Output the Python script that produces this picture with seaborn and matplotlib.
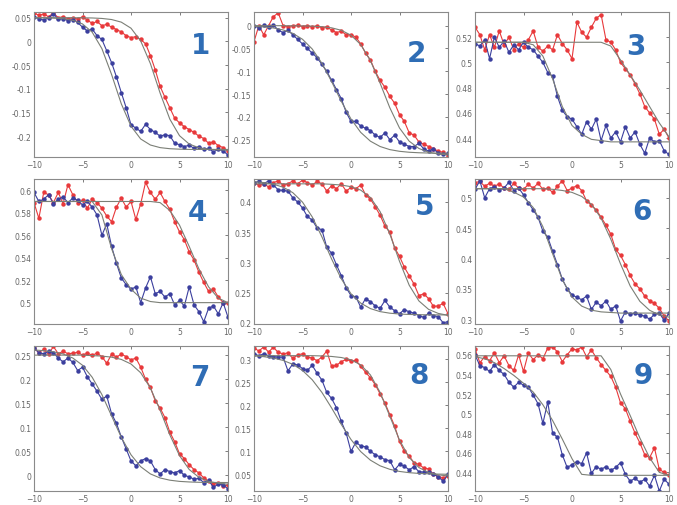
import numpy as np
import pandas as pd
import matplotlib
matplotlib.use("Agg")
import matplotlib.pyplot as plt
from matplotlib.ticker import FuncFormatter
import seaborn as sns

sns.set_style("white")
plt.rcParams['font.family'] = ['DejaVu Sans']

# x positions of the measured points and of the fitted curves
x_data = np.linspace(-10, 10, 41)
x_fit = np.linspace(-10, 10, 21)

# panel 1
blue_1 = [0.052, 0.048, 0.045, 0.050, 0.058, 0.047, 0.048, 0.044, 0.046, 0.040, 0.030, 0.022, 0.026, 0.012,
          0.004, -0.020, -0.045, -0.075, -0.108, -0.140, -0.176, -0.183, -0.190, -0.175, -0.186, -0.192, -0.200,
          -0.197, -0.199, -0.215, -0.218, -0.222, -0.219, -0.226, -0.222, -0.228, -0.226, -0.233, -0.228, -0.231, -0.240]
red_1 = [0.060, 0.055, 0.058, 0.052, 0.060, 0.050, 0.052, 0.048, 0.050, 0.047, 0.052, 0.045, 0.038, 0.042,
         0.033, 0.036, 0.030, 0.025, 0.020, 0.012, 0.008, 0.010, 0.004, -0.005, -0.030, -0.060, -0.095, -0.118,
         -0.140, -0.162, -0.172, -0.180, -0.186, -0.192, -0.200, -0.205, -0.215, -0.212, -0.220, -0.224, -0.232]
fit_blue_1 = [0.0498, 0.0496, 0.0491, 0.0478, 0.0445, 0.0368, 0.0194, -0.0153, -0.070, -0.1318, -0.179,
              -0.206, -0.2187, -0.2242, -0.2265, -0.2275, -0.228, -0.228, -0.228, -0.228, -0.228]
fit_red_1 = [0.05, 0.05, 0.05, 0.0499, 0.0499, 0.0497, 0.0494, 0.0484, 0.0461, 0.0406, 0.0278,
             0.0008, -0.0469, -0.109, -0.164, -0.199, -0.2167, -0.2245, -0.2277, -0.229, -0.2296]

# panel 2
blue_2 = [0.0, -0.004, 0.001, -0.003, 0.002, -0.010, -0.015, -0.010, -0.020, -0.030, -0.040, -0.050, -0.060, -0.070,
          -0.085, -0.100, -0.120, -0.140, -0.160, -0.190, -0.210, -0.210, -0.220, -0.225, -0.230, -0.240, -0.245,
          -0.235, -0.250, -0.240, -0.255, -0.260, -0.265, -0.265, -0.258, -0.270, -0.275, -0.270, -0.280, -0.282, -0.280]
red_2 = [-0.035, 0.0, -0.020, 0.0, 0.020, 0.028, 0.0, -0.002, 0.0, 0.001, -0.002, 0.0, -0.003, 0.0,
         -0.005, -0.002, -0.010, -0.015, -0.012, -0.020, -0.020, -0.025, -0.040, -0.060, -0.075, -0.100, -0.120,
         -0.135, -0.155, -0.170, -0.195, -0.210, -0.235, -0.240, -0.255, -0.260, -0.265, -0.270, -0.275, -0.278, -0.285]
fit_blue_2 = [-0.0014, -0.0027, -0.005, -0.0093, -0.0168, -0.0298, -0.0511, -0.0824, -0.1226, -0.166, -0.2047,
              -0.234, -0.2533, -0.265, -0.2718, -0.2755, -0.2776, -0.2787, -0.2793, -0.2796, -0.2798]
fit_red_2 = [0.0, 0.0, 0.0, 0.0, -0.0005, -0.0005, -0.001, -0.0022, -0.0047, -0.0101, -0.0209,
             -0.0414, -0.0767, -0.1262, -0.1799, -0.2244, -0.2533, -0.2693, -0.2775, -0.2815, -0.2833]

# panel 3
blue_3 = [0.515, 0.513, 0.518, 0.503, 0.520, 0.512, 0.517, 0.508, 0.514, 0.510, 0.516, 0.512, 0.510, 0.505,
          0.500, 0.492, 0.489, 0.473, 0.462, 0.457, 0.455, 0.449, 0.443, 0.453, 0.447, 0.455, 0.438,
          0.450, 0.440, 0.445, 0.437, 0.449, 0.440, 0.445, 0.435, 0.428, 0.440, 0.437, 0.438, 0.430, 0.427]
red_3 = [0.528, 0.522, 0.510, 0.522, 0.512, 0.525, 0.514, 0.520, 0.510, 0.515, 0.512, 0.518, 0.525, 0.512,
         0.509, 0.513, 0.510, 0.522, 0.515, 0.510, 0.503, 0.532, 0.524, 0.520, 0.528, 0.535, 0.538,
         0.518, 0.516, 0.510, 0.500, 0.495, 0.490, 0.483, 0.475, 0.465, 0.460, 0.455, 0.443, 0.447, 0.440]
fit_blue_3 = [0.516, 0.516, 0.516, 0.516, 0.516, 0.516, 0.514, 0.505, 0.487, 0.465, 0.450,
              0.443, 0.439, 0.438, 0.437, 0.437, 0.437, 0.437, 0.437, 0.437, 0.437]
fit_red_3 = [0.516, 0.516, 0.516, 0.516, 0.516, 0.516, 0.516, 0.516, 0.516, 0.516, 0.516,
             0.516, 0.516, 0.516, 0.513, 0.502, 0.490, 0.478, 0.465, 0.452, 0.441]

# panel 4
blue_4 = [0.598, 0.590, 0.592, 0.596, 0.588, 0.592, 0.594, 0.589, 0.593, 0.591, 0.587, 0.590, 0.585, 0.578,
          0.560, 0.570, 0.550, 0.535, 0.522, 0.516, 0.512, 0.514, 0.500, 0.513, 0.523, 0.508, 0.510,
          0.505, 0.508, 0.498, 0.502, 0.497, 0.514, 0.498, 0.492, 0.483, 0.495, 0.497, 0.490, 0.500, 0.487]
red_4 = [0.589, 0.575, 0.598, 0.596, 0.589, 0.598, 0.588, 0.605, 0.596, 0.589, 0.591, 0.584, 0.592, 0.589,
         0.584, 0.577, 0.572, 0.585, 0.593, 0.585, 0.590, 0.574, 0.588, 0.607, 0.598, 0.592, 0.598,
         0.590, 0.583, 0.572, 0.563, 0.556, 0.545, 0.538, 0.527, 0.518, 0.510, 0.512, 0.505, 0.500, 0.500]
fit_blue_4 = [0.590, 0.590, 0.590, 0.590, 0.590, 0.590, 0.590, 0.578, 0.548, 0.525, 0.512,
              0.504, 0.501, 0.500, 0.500, 0.500, 0.500, 0.500, 0.500, 0.500, 0.500]
fit_red_4 = [0.590, 0.590, 0.590, 0.590, 0.590, 0.590, 0.590, 0.590, 0.590, 0.590, 0.590,
             0.590, 0.590, 0.589, 0.582, 0.569, 0.550, 0.530, 0.514, 0.504, 0.500]

# panel 5
blue_5 = [0.432, 0.434, 0.430, 0.435, 0.428, 0.420, 0.419, 0.418, 0.407, 0.400, 0.390, 0.376, 0.370, 0.357,
          0.354, 0.325, 0.315, 0.296, 0.278, 0.258, 0.245, 0.243, 0.226, 0.240, 0.235, 0.228, 0.224,
          0.237, 0.226, 0.220, 0.215, 0.222, 0.218, 0.216, 0.212, 0.209, 0.216, 0.212, 0.210, 0.200, 0.202]
red_5 = [0.432, 0.428, 0.430, 0.425, 0.432, 0.435, 0.428, 0.430, 0.435, 0.430, 0.436, 0.432, 0.428, 0.434,
         0.430, 0.418, 0.427, 0.422, 0.430, 0.418, 0.424, 0.422, 0.428, 0.412, 0.405, 0.392, 0.378,
         0.360, 0.350, 0.324, 0.310, 0.292, 0.278, 0.264, 0.245, 0.248, 0.240, 0.227, 0.228, 0.232, 0.215]
fit_blue_5 = [0.4335, 0.4321, 0.4294, 0.4245, 0.4154, 0.3997, 0.3753, 0.3423, 0.3057, 0.2727, 0.248,
              0.2326, 0.2235, 0.2185, 0.2159, 0.2145, 0.2138, 0.2134, 0.2132, 0.2131, 0.213]
fit_red_5 = [0.43, 0.43, 0.43, 0.43, 0.43, 0.43, 0.43, 0.43, 0.4292, 0.428, 0.4253,
             0.4196, 0.4074, 0.384, 0.347, 0.3018, 0.2622, 0.2362, 0.2222, 0.2155, 0.2124]

# panel 6
blue_6 = [0.514, 0.528, 0.500, 0.515, 0.518, 0.513, 0.516, 0.526, 0.512, 0.516, 0.505, 0.492, 0.480, 0.468,
          0.445, 0.435, 0.412, 0.390, 0.366, 0.350, 0.340, 0.336, 0.332, 0.338, 0.316, 0.328, 0.322,
          0.330, 0.316, 0.322, 0.297, 0.312, 0.308, 0.310, 0.307, 0.305, 0.300, 0.308, 0.310, 0.298, 0.310]
red_6 = [0.525, 0.527, 0.519, 0.524, 0.519, 0.523, 0.516, 0.514, 0.524, 0.516, 0.514, 0.522, 0.516, 0.524,
         0.514, 0.516, 0.509, 0.519, 0.528, 0.512, 0.516, 0.520, 0.512, 0.495, 0.488, 0.480, 0.468,
         0.455, 0.440, 0.415, 0.405, 0.390, 0.372, 0.358, 0.350, 0.338, 0.330, 0.326, 0.318, 0.305, 0.297]
fit_blue_6 = [0.515, 0.515, 0.515, 0.515, 0.5093, 0.5013, 0.484, 0.4523, 0.4078, 0.3651, 0.3364,
              0.3215, 0.3148, 0.312, 0.311, 0.31, 0.31, 0.31, 0.31, 0.31, 0.31]
fit_red_6 = [0.515, 0.515, 0.515, 0.515, 0.515, 0.515, 0.515, 0.515, 0.514, 0.5121, 0.5089,
             0.5023, 0.4894, 0.4664, 0.4318, 0.3911, 0.3546, 0.3293, 0.3146, 0.307, 0.3033]

# panel 7
blue_7 = [0.265, 0.255, 0.253, 0.258, 0.255, 0.244, 0.236, 0.244, 0.235, 0.218, 0.225, 0.205, 0.190, 0.175,
          0.158, 0.165, 0.128, 0.108, 0.080, 0.055, 0.030, 0.020, 0.030, 0.035, 0.030, 0.012, 0.003,
          0.012, 0.008, 0.005, 0.010, 0.000, -0.003, -0.008, -0.006, -0.015, -0.010, -0.025, -0.018, -0.020, -0.028]
red_7 = [0.265, 0.255, 0.262, 0.252, 0.268, 0.253, 0.258, 0.253, 0.254, 0.256, 0.250, 0.254, 0.250, 0.254,
         0.247, 0.233, 0.252, 0.246, 0.252, 0.247, 0.240, 0.244, 0.225, 0.200, 0.183, 0.155, 0.140,
         0.120, 0.090, 0.070, 0.045, 0.035, 0.022, 0.012, 0.005, -0.005, -0.012, -0.018, -0.015, -0.022, -0.020]
fit_blue_7 = [0.2607, 0.2594, 0.257, 0.2524, 0.244, 0.229, 0.204, 0.168, 0.1235, 0.079, 0.0428,
              0.018, 0.003, -0.0054, -0.010, -0.0125, -0.0137, -0.0144, -0.0147, -0.0148, -0.0149]
fit_red_7 = [0.25, 0.25, 0.25, 0.25, 0.25, 0.25, 0.249, 0.248, 0.2458, 0.2411, 0.2316,
             0.2133, 0.1815, 0.1356, 0.0844, 0.0411, 0.0122, -0.004, -0.0124, -0.0164, -0.0183]

# panel 8
blue_8 = [0.312, 0.308, 0.312, 0.308, 0.306, 0.305, 0.305, 0.275, 0.290, 0.288, 0.280, 0.276, 0.287, 0.270,
          0.255, 0.228, 0.215, 0.195, 0.165, 0.140, 0.100, 0.120, 0.112, 0.110, 0.100, 0.093, 0.088,
          0.082, 0.080, 0.060, 0.072, 0.068, 0.060, 0.067, 0.056, 0.055, 0.055, 0.050, 0.045, 0.035, 0.050]
red_8 = [0.325, 0.318, 0.327, 0.316, 0.326, 0.315, 0.312, 0.314, 0.302, 0.310, 0.312, 0.305, 0.303, 0.297,
         0.305, 0.318, 0.285, 0.287, 0.295, 0.300, 0.296, 0.298, 0.285, 0.272, 0.260, 0.245, 0.225,
         0.205, 0.180, 0.155, 0.122, 0.100, 0.090, 0.075, 0.072, 0.064, 0.062, 0.050, 0.045, 0.043, 0.046]
fit_blue_8 = [0.3076, 0.3058, 0.3028, 0.2977, 0.2892, 0.2759, 0.2557, 0.2282, 0.1944, 0.1585, 0.1258,
              0.0996, 0.081, 0.0687, 0.0611, 0.0565, 0.0538, 0.0522, 0.0513, 0.0507, 0.0504]
fit_red_8 = [0.308, 0.308, 0.308, 0.308, 0.308, 0.308, 0.308, 0.3074, 0.3063, 0.304, 0.299,
             0.288, 0.2662, 0.2283, 0.1765, 0.1247, 0.0868, 0.065, 0.0541, 0.049, 0.0468]

# panel 9
blue_9 = [0.560, 0.549, 0.547, 0.543, 0.550, 0.544, 0.540, 0.532, 0.527, 0.532, 0.529, 0.527, 0.519, 0.510,
          0.490, 0.512, 0.480, 0.476, 0.458, 0.445, 0.448, 0.451, 0.449, 0.460, 0.439, 0.446, 0.443,
          0.446, 0.442, 0.445, 0.450, 0.438, 0.431, 0.434, 0.430, 0.433, 0.426, 0.437, 0.421, 0.433, 0.428]
red_9 = [0.566, 0.552, 0.558, 0.554, 0.562, 0.552, 0.559, 0.549, 0.544, 0.560, 0.543, 0.562, 0.555, 0.560,
         0.556, 0.567, 0.568, 0.563, 0.553, 0.560, 0.566, 0.565, 0.568, 0.558, 0.565, 0.557, 0.550,
         0.544, 0.538, 0.527, 0.511, 0.505, 0.492, 0.480, 0.470, 0.458, 0.455, 0.465, 0.443, 0.440, 0.437]
fit_blue_9 = [0.558, 0.556, 0.552, 0.546, 0.539, 0.531, 0.522, 0.509, 0.493, 0.474, 0.454,
              0.438, 0.437, 0.437, 0.437, 0.437, 0.437, 0.437, 0.437, 0.437, 0.437]
fit_red_9 = [0.559, 0.559, 0.559, 0.559, 0.559, 0.559, 0.559, 0.559, 0.559, 0.559, 0.559,
             0.559, 0.559, 0.559, 0.545, 0.520, 0.498, 0.475, 0.455, 0.440, 0.437]

blues = [blue_1, blue_2, blue_3, blue_4, blue_5, blue_6, blue_7, blue_8, blue_9]
reds = [red_1, red_2, red_3, red_4, red_5, red_6, red_7, red_8, red_9]
fit_blues = [fit_blue_1, fit_blue_2, fit_blue_3, fit_blue_4, fit_blue_5, fit_blue_6, fit_blue_7, fit_blue_8, fit_blue_9]
fit_reds = [fit_red_1, fit_red_2, fit_red_3, fit_red_4, fit_red_5, fit_red_6, fit_red_7, fit_red_8, fit_red_9]

ylims = [(-0.244, 0.062), (-0.288, 0.030), (0.425, 0.540),
         (0.481, 0.610), (0.198, 0.438), (0.292, 0.531),
         (-0.0325, 0.269), (0.014, 0.329), (0.421, 0.569)]
yticks = [[-0.2, -0.15, -0.1, -0.05, 0, 0.05],
          [-0.25, -0.2, -0.15, -0.1, -0.05, 0],
          [0.44, 0.46, 0.48, 0.5, 0.52],
          [0.5, 0.52, 0.54, 0.56, 0.58, 0.6],
          [0.2, 0.25, 0.3, 0.35, 0.4],
          [0.3, 0.35, 0.4, 0.45, 0.5],
          [0, 0.05, 0.1, 0.15, 0.2, 0.25],
          [0.05, 0.1, 0.15, 0.2, 0.25, 0.3],
          [0.44, 0.46, 0.48, 0.5, 0.52, 0.54, 0.56]]
labels = ["1", "2", "3", "4", "5", "6", "7", "8", "9"]
label_pos = [(0.856, 0.77), (0.835, 0.715), (0.83, 0.764),
             (0.84, 0.774), (0.88, 0.815), (0.86, 0.78),
             (0.856, 0.786), (0.85, 0.80), (0.865, 0.80)]

fig = plt.figure(figsize=(6.77, 5.06), dpi=100)
lefts = [34 / 677, 254 / 677, 475 / 677]
bottoms = [1 - 158 / 506, 1 - 325 / 506, 1 - 492 / 506]
w, h = 194 / 677, 145 / 506

blue_c = "#3b3f9e"
red_c = "#e8393b"
fit_c = "#7b7f76"
axis_c = "#8a8a8a"

for i in range(9):
    r, c = divmod(i, 3)
    ax = fig.add_axes([lefts[c], bottoms[r], w, h])
    df = pd.DataFrame({"x": x_data, "blue": blues[i], "red": reds[i]})
    fit = pd.DataFrame({"x": x_fit, "blue": fit_blues[i], "red": fit_reds[i]})
    sns.lineplot(data=df, x="x", y="red", ax=ax, color=red_c, lw=0.8, marker="o",
                 markersize=3.2, markeredgewidth=0, estimator=None, sort=False)
    sns.lineplot(data=df, x="x", y="blue", ax=ax, color=blue_c, lw=0.8, marker="o",
                 markersize=3.2, markeredgewidth=0, estimator=None, sort=False)
    sns.lineplot(data=fit, x="x", y="blue", ax=ax, color=fit_c, lw=0.8, estimator=None, sort=False)
    sns.lineplot(data=fit, x="x", y="red", ax=ax, color=fit_c, lw=0.8, estimator=None, sort=False)

    ax.set_xlim(-10, 10)
    ax.set_ylim(*ylims[i])
    ax.set_xticks([-10, -5, 0, 5, 10])
    ax.set_yticks(yticks[i])
    ax.yaxis.set_major_formatter(FuncFormatter(lambda v, p: f"{v:g}"))
    ax.set_xlabel("")
    ax.set_ylabel("")
    ax.tick_params(direction="in", length=2.5, width=0.6, labelsize=5.5,
                   colors="#666666", top=True, right=True, pad=2)
    for s in ax.spines.values():
        s.set_color(axis_c)
        s.set_linewidth(0.8)
    ax.text(label_pos[i][0], label_pos[i][1], labels[i], transform=ax.transAxes,
            ha="center", va="center", fontsize=20, fontweight="bold", color="#2f6db5")

fig.savefig("out.png", dpi=100, facecolor="white")
